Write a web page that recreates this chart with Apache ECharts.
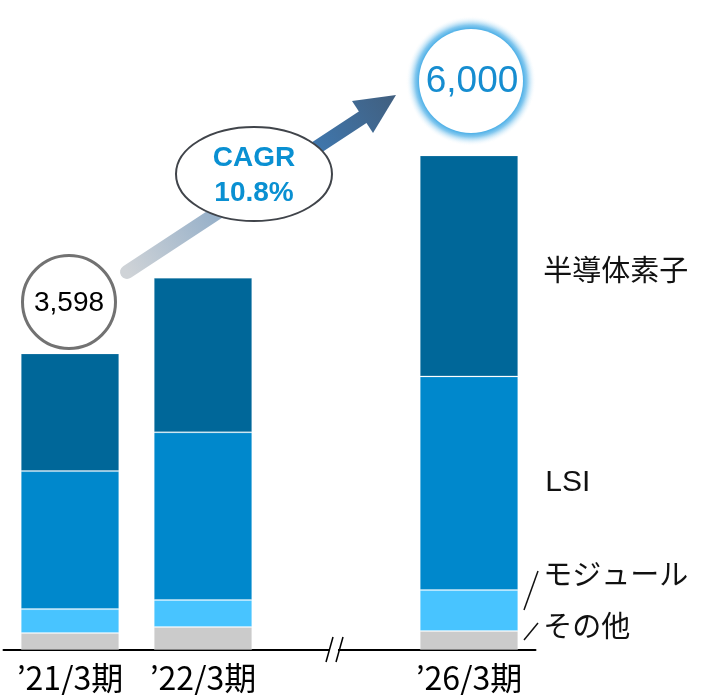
<!DOCTYPE html>
<html>
<head>
<meta charset="utf-8">
<script src="https://cdn.jsdelivr.net/npm/echarts@6/dist/echarts.min.js"></script>
<style>
  html, body { margin: 0; padding: 0; background: #fff; }
  #main { width: 707px; height: 695px; }
</style>
</head>
<body>
<div id="main"></div>
<script>
  // 売上構成（億円） — 3番目のカテゴリは軸の省略部分
  const categories = ['’21/3期', '’22/3期', '', '’26/3期']
  const other = [205, 279, null, 230]       // その他
  const module = [291, 328, null, 497]      // モジュール
  const lsi = [1674, 2034, null, 2592]      // LSI
  const discrete = [1428, 1875, null, 2681] // 半導体素子
  const totals = ['3,598', '6,000']
  const cagr = ['CAGR', '10.8%']

  const jp = '"Noto Sans CJK JP", sans-serif'
  const arial = '"Liberation Sans", Arial, sans-serif'

  const chart = echarts.init(document.getElementById('main'))

  // 最後の棒にだけ系列名のラベルを付ける
  function lastLabel(values, text, extra) {
    return values.map((v, i) => {
      if (i !== values.length - 1) return v
      return {
        value: v,
        label: Object.assign({
          show: true,
          position: 'right',
          distance: 25,
          formatter: text,
          fontSize: 29,
          color: '#111',
          fontFamily: jp
        }, extra)
      }
    })
  }

  const barBase = {
    type: 'bar',
    stack: 'total',
    barWidth: '74%',
    itemStyle: { borderColor: 'rgba(255,255,255,0.2)', borderWidth: 1 },
    emphasis: { disabled: true }
  }

  const arrowFill = {
    type: 'linear', global: true,
    x: 127, y: 272, x2: 396, y2: 95,
    colorStops: [
      { offset: 0, color: '#CFD3D7' },
      { offset: 0.35, color: '#93AEC8' },
      { offset: 0.62, color: '#3F7DB9' },
      { offset: 1, color: '#415F7F' }
    ]
  }

  const glowFill = {
    type: 'radial', x: 0.5, y: 0.5, r: 0.5,
    colorStops: [
      { offset: 0.78, color: '#3AA7E4' },
      { offset: 0.86, color: '#86C9EF' },
      { offset: 1, color: 'rgba(255,255,255,0)' }
    ]
  }

  chart.setOption({
    animation: false,
    grid: { left: 3.5, right: 171.5, top: 0, bottom: 45 },
    xAxis: {
      type: 'category',
      data: categories,
      axisLine: { lineStyle: { color: '#000', width: 2 } },
      axisTick: { show: false },
      axisLabel: { interval: 0, hideOverlap: false, fontSize: 32, color: '#000', fontFamily: jp, margin: 12 }
    },
    yAxis: { type: 'value', min: 0, max: 7885, show: false },
    series: [
      Object.assign({}, barBase, {
        name: 'その他', color: '#CBCBCB',
        data: lastLabel(other, 'その他', { offset: [0, -15] })
      }),
      Object.assign({}, barBase, {
        name: 'モジュール', color: '#48C4FF',
        data: lastLabel(module, 'モジュール', { offset: [0, -37] })
      }),
      Object.assign({}, barBase, {
        name: 'LSI', color: '#0088CC',
        data: lastLabel(lsi, 'LSI', { fontFamily: arial, fontSize: 30, distance: 27 })
      }),
      Object.assign({}, barBase, {
        name: '半導体素子', color: '#006799',
        data: lastLabel(discrete, '半導体素子', { offset: [0, 4] })
      })
    ],
    graphic: [
      // 引出線
      { type: 'line', shape: { x1: 524, y1: 610, x2: 538, y2: 571 }, style: { stroke: '#111', lineWidth: 1.5 } },
      { type: 'line', shape: { x1: 524, y1: 640, x2: 538, y2: 623 }, style: { stroke: '#111', lineWidth: 1.5 } },
      // 軸の省略記号
      { type: 'rect', shape: { x: 330, y: 646, width: 8, height: 8 }, style: { fill: '#fff' }, z: 10 },
      { type: 'line', shape: { x1: 326, y1: 662, x2: 333, y2: 637 }, style: { stroke: '#000', lineWidth: 1.5 }, z: 11 },
      { type: 'line', shape: { x1: 336, y1: 662, x2: 343, y2: 637 }, style: { stroke: '#000', lineWidth: 1.5 }, z: 11 },
      // 成長矢印
      { type: 'line', shape: { x1: 127, y1: 272, x2: 363, y2: 117 }, style: { stroke: arrowFill, lineWidth: 14, lineCap: 'round' }, z: 5 },
      { type: 'polygon', shape: { points: [[396, 95], [373, 133], [352, 101]] }, style: { fill: arrowFill }, z: 5 },
      // CAGR 楕円
      { type: 'ellipse', shape: { cx: 254, cy: 174, rx: 78, ry: 47 }, style: { fill: '#fff', stroke: '#40444A', lineWidth: 2 }, z: 6 },
      { type: 'text', x: 254, y: 158, style: { text: cagr[0], fill: '#0A90D2', font: 'bold 28px ' + arial, textAlign: 'center', textVerticalAlign: 'middle' }, z: 7 },
      { type: 'text', x: 254, y: 193, style: { text: cagr[1], fill: '#0A90D2', font: 'bold 28px ' + arial, textAlign: 'center', textVerticalAlign: 'middle' }, z: 7 },
      // 合計値
      { type: 'circle', shape: { cx: 69, cy: 302, r: 46.5 }, style: { fill: '#fff', stroke: '#727272', lineWidth: 3 }, z: 6 },
      { type: 'text', x: 69, y: 303, style: { text: totals[0], fill: '#000', font: '28px ' + arial, textAlign: 'center', textVerticalAlign: 'middle' }, z: 7 },
      { type: 'circle', shape: { cx: 471, cy: 81, r: 65 }, style: { fill: glowFill }, z: 6 },
      { type: 'circle', shape: { cx: 471, cy: 81, r: 52 }, style: { fill: '#fff' }, z: 6 },
      { type: 'text', x: 472, y: 82, style: { text: totals[1], fill: '#168DD0', font: '37px ' + arial, textAlign: 'center', textVerticalAlign: 'middle' }, z: 7 }
    ]
  })
</script>
</body>
</html>
